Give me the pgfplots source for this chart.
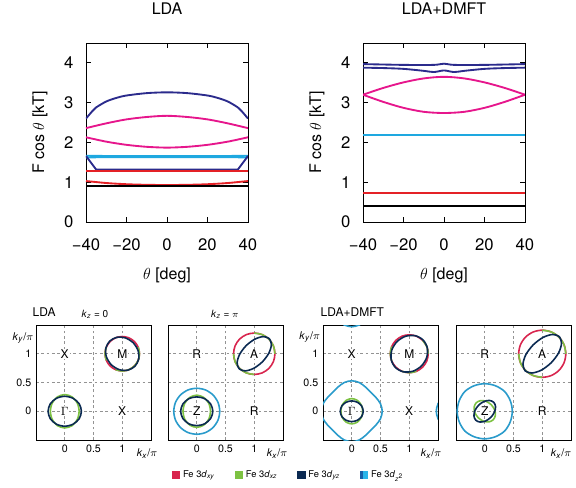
\documentclass[border=0pt]{standalone}
\usepackage{fontspec}
\setmainfont{TeX Gyre Heros}
\usepackage{pgfplots}
\pgfplotsset{compat=1.18}
\definecolor{tnavy}{HTML}{2B2B8C}
\definecolor{tmag}{HTML}{E6168C}
\definecolor{tcyan}{HTML}{1EA8E0}
\definecolor{tred}{HTML}{E42126}
\definecolor{fred}{HTML}{D8254E}
\definecolor{fgreen}{HTML}{7DC242}
\definecolor{fnavy}{HTML}{0B2A52}
\definecolor{fcyan}{HTML}{2A9BCB}
\definecolor{lcyanA}{HTML}{1A5FA8}
\definecolor{lcyanB}{HTML}{2BB5EA}
\tikzset{lab/.style={fill=white, inner sep=0.6pt, font=\fontsize{9}{10}\selectfont}}
\pgfplotsset{
 topax/.style={scale only axis, width=121.5pt, height=134.25pt,
  xmin=-40, xmax=40, ymin=0, ymax=4.5,
  xtick={-40,-20,0,20,40}, xticklabels={−40,−20,0,20,40},
  ytick={0,1,2,3,4}, yticklabels={0,1,2,3,4},
  tick label style={font=\fontsize{12.5}{14}\selectfont},
  xticklabel style={yshift=-9pt},
  yticklabel style={xshift=-6pt},
  label style={font=\fontsize{12}{14}\selectfont},
  xlabel={$\theta$ [deg]}, ylabel={F cos $\theta$ [kT]},
  xlabel style={at={(axis description cs:0.5,-0.296)}, anchor=center},
  ylabel style={at={(axis description cs:-0.284,0.5)}, anchor=center},
  title style={font=\fontsize{12}{14}\selectfont, at={(axis description cs:0.5,1.145)}, anchor=center},
  axis line style={line width=0.6pt},
  every tick/.style={black, line width=0.6pt}, major tick length=4pt,
  no markers, every axis plot/.append style={line width=1.4pt}},
 fsax/.style={scale only axis, width=86.25pt, height=86.25pt,
  xmin=-0.5, xmax=1.5, ymin=-0.5, ymax=1.5,
  xtick={0,0.5,1}, ytick={0,0.5,1}, xticklabels={0,0.5,1}, yticklabels={0,0.5,1},
  grid=major, grid style={gray!85, dash pattern=on 2pt off 2pt, line width=0.4pt},
  major tick length=0pt,
  tick label style={font=\fontsize{8}{9}\selectfont},
  axis line style={line width=0.6pt},
  no markers, every axis plot/.append style={line width=1.2pt}}
}
\begin{document}
\begin{tikzpicture}
\useasboundingbox (0pt,0pt) rectangle (432pt,365.25pt);
% ---------------- LDA ----------------
\begin{axis}[topax, at={(64.5pt,198.75pt)}, anchor=south west, title={LDA}]
\addplot[tnavy, smooth] coordinates {(-40,2.60)(-37,2.78)(-35,2.88)(-30,3.03)(-25,3.12)(-20,3.18)(-10,3.24)(0,3.26)(10,3.24)(20,3.18)(25,3.12)(30,3.03)(35,2.88)(37,2.78)(40,2.60)};
\addplot[tmag, smooth] coordinates {(-40,2.36)(-30,2.48)(-20,2.58)(-10,2.64)(0,2.67)(10,2.64)(20,2.58)(30,2.48)(40,2.36)};
\addplot[tmag, smooth] coordinates {(-40,2.13)(-30,2.02)(-20,1.94)(-10,1.89)(0,1.87)(10,1.89)(20,1.94)(30,2.02)(40,2.13)};
\addplot[tcyan] coordinates {(-40,1.665)(-20,1.655)(0,1.655)(20,1.655)(40,1.665)};
\addplot[tcyan] coordinates {(-40,1.625)(-20,1.63)(0,1.63)(20,1.63)(40,1.625)};
\addplot[tnavy] coordinates {(-40,1.66)(-35,1.32)(-30,1.32)(0,1.32)(30,1.32)(35,1.32)(40,1.66)};
\addplot[tred] coordinates {(-40,1.29)(0,1.29)(40,1.29)};
\addplot[tred, smooth] coordinates {(-40,1.03)(-30,0.98)(-20,0.95)(-10,0.935)(0,0.93)(10,0.935)(20,0.95)(30,0.98)(40,1.03)};
\addplot[black] coordinates {(-40,0.91)(0,0.91)(40,0.91)};
\end{axis}
% ---------------- LDA+DMFT ----------------
\begin{axis}[topax, at={(272.25pt,198.75pt)}, anchor=south west, title={LDA+DMFT}]
\addplot[tnavy, smooth] coordinates {(-40,3.97)(-20,3.95)(-5,3.95)(0,3.98)(5,3.95)(20,3.95)(40,3.97)};
\addplot[tnavy, smooth] coordinates {(-40,3.88)(-30,3.87)(-20,3.85)(-10,3.80)(-5,3.77)(0,3.81)(5,3.77)(10,3.80)(20,3.85)(30,3.87)(40,3.88)};
\addplot[tmag, smooth] coordinates {(-40,3.20)(-30,3.37)(-20,3.51)(-10,3.61)(0,3.65)(10,3.61)(20,3.51)(30,3.37)(40,3.20)};
\addplot[tmag, smooth] coordinates {(-40,3.20)(-30,3.02)(-20,2.87)(-10,2.77)(0,2.74)(10,2.77)(20,2.87)(30,3.02)(40,3.20)};
\addplot[tcyan] coordinates {(-40,2.20)(0,2.20)(40,2.20)};
\addplot[tcyan] coordinates {(-40,2.18)(0,2.18)(40,2.18)};
\addplot[tred] coordinates {(-40,0.73)(0,0.73)(40,0.73)};
\addplot[black] coordinates {(-40,0.40)(0,0.40)(40,0.40)};
\end{axis}
% ---------------- panel 1: LDA kz=0 ----------------
\begin{axis}[fsax, at={(27pt,35.25pt)}, anchor=south west]
\addplot[fgreen, smooth cycle] coordinates {(0.25,0)(0.217,0.145)(0.125,0.251)(0,0.29)(-0.125,0.251)(-0.217,0.145)(-0.25,0)(-0.217,-0.145)(-0.125,-0.251)(0,-0.29)(0.125,-0.251)(0.217,-0.145)};
\addplot[fnavy, smooth cycle] coordinates {(0.29,0)(0.251,0.13)(0.145,0.225)(0,0.26)(-0.145,0.225)(-0.251,0.13)(-0.29,0)(-0.251,-0.13)(-0.145,-0.225)(0,-0.26)(0.145,-0.225)(0.251,-0.13)};
\addplot[fred, smooth cycle] coordinates {(1.30,1.00)(1.277,1.115)(1.212,1.212)(1.115,1.277)(1.00,1.30)(0.885,1.277)(0.788,1.212)(0.723,1.115)(0.70,1.00)(0.723,0.885)(0.788,0.788)(0.885,0.723)(1.00,0.70)(1.115,0.723)(1.212,0.788)(1.277,0.885)};
\addplot[fgreen, smooth] coordinates {(0.885,0.723)(1.00,0.70)(1.115,0.723)(1.212,0.788)(1.277,0.885)(1.30,1.00)(1.277,1.115)};
\addplot[fgreen, smooth] coordinates {(0.723,1.115)(0.70,1.00)(0.723,0.885)};
\addplot[fnavy, smooth cycle] coordinates {(1.191,1.191)(1.055,1.275)(0.906,1.286)(0.781,1.219)(0.714,1.094)(0.725,0.945)(0.809,0.809)(0.945,0.725)(1.094,0.714)(1.219,0.781)(1.286,0.906)(1.275,1.055)};
\node[lab] at (axis cs:0,1) {X};
\node[lab] at (axis cs:1,1) {M};
\node[lab] at (axis cs:0,0) {$\Gamma$};
\node[lab] at (axis cs:1,0) {X};
\end{axis}
% ---------------- panel 2: LDA kz=pi ----------------
\begin{axis}[fsax, at={(126pt,35.25pt)}, anchor=south west, yticklabels={}]
\addplot[fcyan, smooth cycle] coordinates {(0.40,0)(0.370,0.153)(0.283,0.283)(0.153,0.370)(0,0.40)(-0.153,0.370)(-0.283,0.283)(-0.370,0.153)(-0.40,0)(-0.370,-0.153)(-0.283,-0.283)(-0.153,-0.370)(0,-0.40)(0.153,-0.370)(0.283,-0.283)(0.370,-0.153)};
\addplot[fgreen, smooth cycle] coordinates {(0.24,0)(0.208,0.14)(0.12,0.242)(0,0.28)(-0.12,0.242)(-0.208,0.14)(-0.24,0)(-0.208,-0.14)(-0.12,-0.242)(0,-0.28)(0.12,-0.242)(0.208,-0.14)};
\addplot[fnavy, smooth cycle] coordinates {(0.28,0)(0.242,0.125)(0.14,0.217)(0,0.25)(-0.14,0.217)(-0.242,0.125)(-0.28,0)(-0.242,-0.125)(-0.14,-0.217)(0,-0.25)(0.14,-0.217)(0.242,-0.125)};
\addplot[fred, smooth cycle] coordinates {(1.36,1.00)(1.333,1.138)(1.255,1.255)(1.138,1.333)(1.00,1.36)(0.862,1.333)(0.745,1.255)(0.667,1.138)(0.64,1.00)(0.667,0.862)(0.745,0.745)(0.862,0.667)(1.00,0.64)(1.138,0.667)(1.255,0.745)(1.333,0.862)};
\addplot[fgreen, smooth] coordinates {(1.36,1.00)(1.333,1.138)(1.255,1.255)(1.138,1.333)(1.00,1.36)};
\addplot[fgreen, smooth] coordinates {(0.64,1.00)(0.667,0.862)(0.745,0.745)(0.862,0.667)(1.00,0.64)};
\addplot[fnavy, smooth cycle] coordinates {(1.262,1.262)(1.156,1.298)(1.009,1.253)(0.859,1.141)(0.747,0.991)(0.702,0.844)(0.738,0.738)(0.844,0.702)(0.991,0.747)(1.141,0.859)(1.253,1.009)(1.298,1.156)};
\node[lab] at (axis cs:0,1) {R};
\node[lab] at (axis cs:1,1) {A};
\node[lab] at (axis cs:0,0) {Z};
\node[lab] at (axis cs:1,0) {R};
\end{axis}
% ---------------- panel 3: DMFT kz=0 ----------------
\begin{axis}[fsax, at={(242.25pt,35.25pt)}, anchor=south west]
\addplot[fcyan, smooth cycle] coordinates {(0.53,0)(0.50,0.13)(0.42,0.24)(0.33,0.33)(0.24,0.42)(0.13,0.50)(0,0.53)(-0.13,0.50)(-0.24,0.42)(-0.33,0.33)(-0.42,0.24)(-0.50,0.13)(-0.53,0)(-0.50,-0.13)(-0.42,-0.24)(-0.33,-0.33)(-0.24,-0.42)(-0.13,-0.50)(0,-0.53)(0.13,-0.50)(0.24,-0.42)(0.33,-0.33)(0.42,-0.24)(0.50,-0.13)};
\addplot[fcyan, smooth] coordinates {(0.42,1.76)(0.33,1.67)(0.24,1.58)(0.13,1.50)(0,1.47)(-0.13,1.50)(-0.24,1.58)(-0.33,1.67)(-0.42,1.76)};
\addplot[fcyan, smooth] coordinates {(1.76,0.42)(1.67,0.33)(1.58,0.24)(1.50,0.13)(1.47,0)(1.50,-0.13)(1.58,-0.24)(1.67,-0.33)(1.76,-0.42)};
\addplot[fgreen, smooth cycle] coordinates {(0.19,0)(0.165,0.11)(0.095,0.191)(0,0.22)(-0.095,0.191)(-0.165,0.11)(-0.19,0)(-0.165,-0.11)(-0.095,-0.191)(0,-0.22)(0.095,-0.191)(0.165,-0.11)};
\addplot[fnavy, smooth cycle] coordinates {(0.2,0)(0.173,0.09)(0.1,0.156)(0,0.18)(-0.1,0.156)(-0.173,0.09)(-0.2,0)(-0.173,-0.09)(-0.1,-0.156)(0,-0.18)(0.1,-0.156)(0.173,-0.09)};
\addplot[fred, smooth cycle] coordinates {(1.33,1.00)(1.305,1.126)(1.233,1.233)(1.126,1.305)(1.00,1.33)(0.874,1.305)(0.767,1.233)(0.695,1.126)(0.67,1.00)(0.695,0.874)(0.767,0.767)(0.874,0.695)(1.00,0.67)(1.126,0.695)(1.233,0.767)(1.305,0.874)};
\addplot[fgreen, smooth] coordinates {(0.695,1.126)(0.67,1.00)(0.695,0.874)};
\addplot[fgreen, smooth] coordinates {(0.874,0.695)(1.00,0.67)(1.126,0.695)};
\addplot[fgreen, smooth] coordinates {(1.33,1.00)(1.305,1.126)(1.233,1.233)};
\addplot[fnavy, smooth cycle] coordinates {(1.24,1.24)(1.102,1.314)(0.936,1.304)(0.788,1.212)(0.696,1.064)(0.686,0.898)(0.76,0.76)(0.898,0.686)(1.064,0.696)(1.212,0.788)(1.304,0.936)(1.314,1.102)};
\node[lab] at (axis cs:0,1) {X};
\node[lab] at (axis cs:1,1) {M};
\node[lab] at (axis cs:0,0) {$\Gamma$};
\node[lab] at (axis cs:1,0) {X};
\end{axis}
% ---------------- panel 4: DMFT kz=pi ----------------
\begin{axis}[fsax, at={(342pt,35.25pt)}, anchor=south west, yticklabels={},
  legend style={at={(axis description cs:-1.452,-0.304)}, anchor=center, draw=none, fill=none,
   legend columns=4, font=\fontsize{7}{8}\selectfont,
   /tikz/every even column/.append style={column sep=13pt}}]
\addlegendimage{legend image code/.code={\fill[fred] (0pt,-2.6pt) rectangle (5.2pt,2.6pt);}}
\addlegendentry{Fe 3\textit{d}\textsubscript{\textit{xy}}}
\addlegendimage{legend image code/.code={\fill[fgreen] (0pt,-2.6pt) rectangle (5.2pt,2.6pt);}}
\addlegendentry{Fe 3\textit{d}\textsubscript{\textit{xz}}}
\addlegendimage{legend image code/.code={\fill[fnavy] (0pt,-2.6pt) rectangle (5.2pt,2.6pt);}}
\addlegendentry{Fe 3\textit{d}\textsubscript{\textit{yz}}}
\addlegendimage{legend image code/.code={\fill[lcyanA] (0pt,-2.6pt) rectangle (2.6pt,2.6pt); \fill[lcyanB] (2.6pt,-2.6pt) rectangle (5.2pt,2.6pt);}}
\addlegendentry{Fe 3\textit{d}\textsubscript{\textit{z}\textsuperscript{2}}}
\addplot[fcyan, smooth cycle] coordinates {(0.48,0)(0.444,0.184)(0.345,0.345)(0.184,0.444)(0,0.48)(-0.184,0.444)(-0.345,0.345)(-0.444,0.184)(-0.48,0)(-0.444,-0.184)(-0.345,-0.345)(-0.184,-0.444)(0,-0.48)(0.184,-0.444)(0.345,-0.345)(0.444,-0.184)};
\addplot[fgreen, smooth cycle] coordinates {(0.113,0.113)(0.024,0.172)(-0.071,0.185)(-0.148,0.148)(-0.185,0.071)(-0.172,-0.024)(-0.113,-0.113)(-0.024,-0.172)(0.071,-0.185)(0.148,-0.148)(0.185,-0.071)(0.172,0.024)};
\addplot[fnavy, smooth cycle] coordinates {(0.156,0.156)(0.082,0.188)(-0.014,0.170)(-0.106,0.106)(-0.170,0.014)(-0.188,-0.082)(-0.156,-0.156)(-0.082,-0.188)(0.014,-0.170)(0.106,-0.106)(0.170,-0.014)(0.188,0.082)};
\addplot[fred, smooth cycle] coordinates {(1.41,1.00)(1.379,1.157)(1.290,1.290)(1.157,1.379)(1.00,1.41)(0.843,1.379)(0.710,1.290)(0.621,1.157)(0.59,1.00)(0.621,0.843)(0.710,0.710)(0.843,0.621)(1.00,0.59)(1.157,0.621)(1.290,0.710)(1.379,0.843)};
\addplot[fgreen, smooth] coordinates {(1.41,1.00)(1.379,1.157)(1.290,1.290)(1.157,1.379)(1.00,1.41)};
\addplot[fgreen, smooth] coordinates {(0.59,1.00)(0.621,0.843)(0.710,0.710)(0.843,0.621)(1.00,0.59)};
\addplot[fnavy, smooth cycle] coordinates {(1.297,1.297)(1.179,1.335)(1.014,1.284)(0.844,1.156)(0.716,0.986)(0.665,0.821)(0.703,0.703)(0.821,0.665)(0.986,0.716)(1.156,0.844)(1.284,1.014)(1.335,1.179)};
\node[lab] at (axis cs:0,1) {R};
\node[lab] at (axis cs:1,1) {A};
\node[lab] at (axis cs:0,0) {Z};
\node[lab] at (axis cs:1,0) {R};
\end{axis}
% ---------------- free labels ----------------
\node[anchor=west, font=\fontsize{9}{10}\selectfont] at (21pt,131.25pt) {LDA};
\node[font=\fontsize{7.5}{9}\selectfont] at (71.25pt,129.5pt) {\textit{k}\textsubscript{\textit{z}} = 0};
\node[font=\fontsize{7.5}{9}\selectfont] at (168.75pt,129.5pt) {\textit{k}\textsubscript{\textit{z}} = $\pi$};
\node[anchor=west, font=\fontsize{9}{10}\selectfont] at (237pt,131.25pt) {LDA+DMFT};
\node[anchor=west, font=\fontsize{8}{9}\selectfont] at (6pt,111.75pt) {\textit{k}\textsubscript{\textit{y}}/$\pi$};
\node[anchor=west, font=\fontsize{8}{9}\selectfont] at (221pt,112.5pt) {\textit{k}\textsubscript{\textit{y}}/$\pi$};
\node[font=\fontsize{8}{9}\selectfont] at (110.25pt,25pt) {\textit{k}\textsubscript{\textit{x}}/$\pi$};
\node[font=\fontsize{8}{9}\selectfont] at (207.75pt,25pt) {\textit{k}\textsubscript{\textit{x}}/$\pi$};
\node[font=\fontsize{8}{9}\selectfont] at (323.25pt,25pt) {\textit{k}\textsubscript{\textit{x}}/$\pi$};
\node[font=\fontsize{8}{9}\selectfont] at (420.75pt,25pt) {\textit{k}\textsubscript{\textit{x}}/$\pi$};
\end{tikzpicture}
\end{document}
